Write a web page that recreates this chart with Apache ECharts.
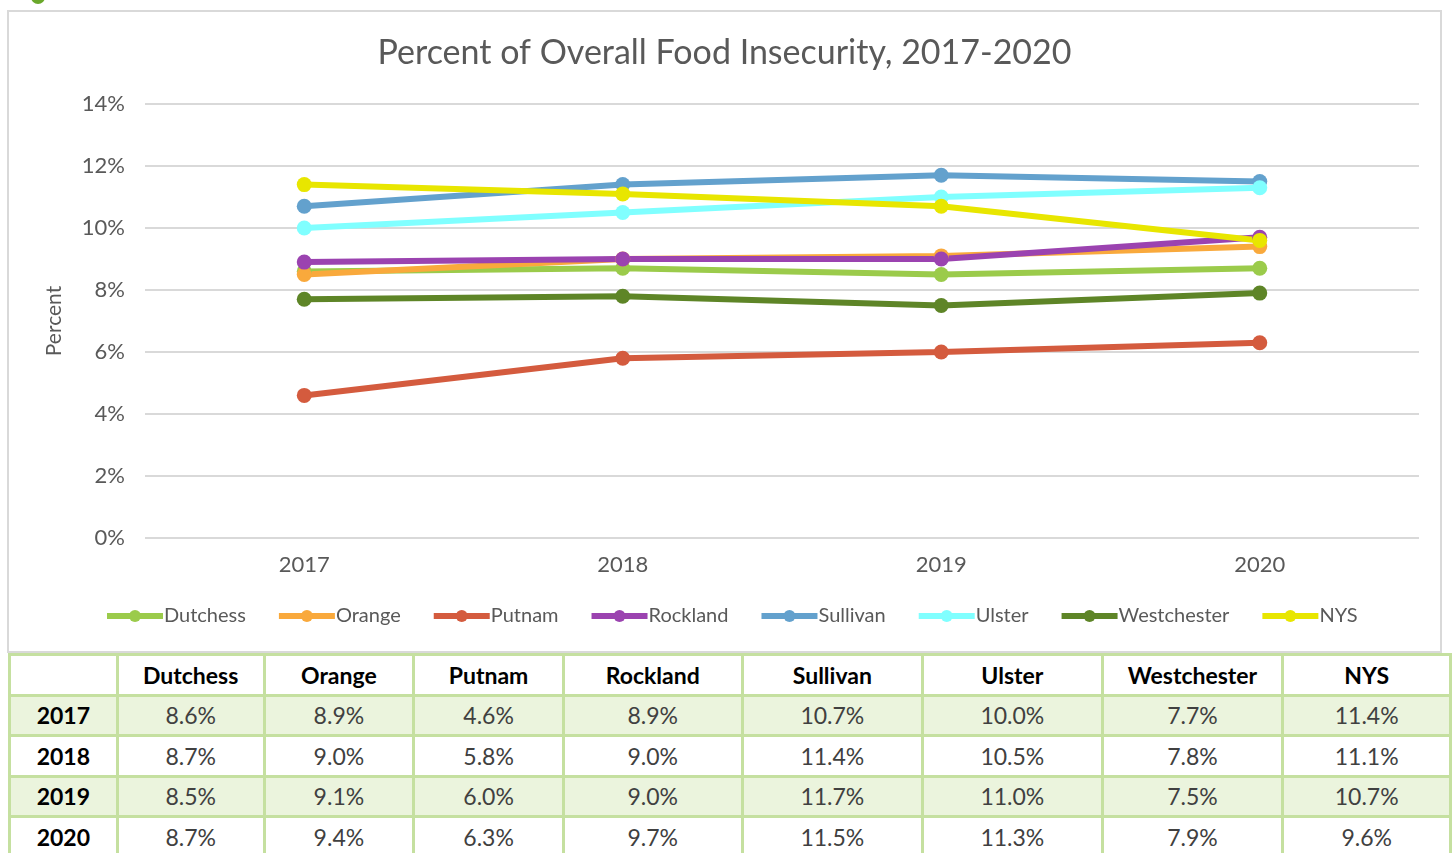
<!DOCTYPE html>
<html>
<head>
<meta charset="utf-8">
<script src="https://cdn.jsdelivr.net/npm/echarts@6/dist/echarts.min.js"></script>
<style>
  body { margin: 0; background: #fff; font-family: Lato, 'Open Sans', sans-serif; overflow: hidden; }
  #dot { position: absolute; left: 31px; top: -10px; width: 14px; height: 14px; border-radius: 50%; background: #6aa82b; }
  #main { position: absolute; left: 7px; top: 10px; width: 1431px; height: 639px; border: 2px solid #d9d9d9; }
  #tbl { position: absolute; left: 8px; top: 653px; border-collapse: collapse; }
  #tbl td, #tbl th { border: 3px solid #c5e0a0; height: 37.5px; padding: 0; text-align: center; font-size: 23px; color: #404040; }
  #tbl th { color: #000; font-weight: bold; }
  #tbl tr.alt td, #tbl tr.alt th { background: #ebf4dd; }
</style>
</head>
<body>
<div id="dot"></div>
<div id="main"></div>
<table id="tbl"></table>
<script>
const years = ['2017', '2018', '2019', '2020']
const names = ['Dutchess', 'Orange', 'Putnam', 'Rockland', 'Sullivan', 'Ulster', 'Westchester', 'NYS']
const colors = ['#9bcb4b', '#f9a93c', '#d45b3e', '#9b43b0', '#63a1cd', '#80ffff', '#5e8527', '#e8e600']
const dutchess = [8.6, 8.7, 8.5, 8.7]
const orange = [8.5, 9.0, 9.1, 9.4]
const putnam = [4.6, 5.8, 6.0, 6.3]
const rockland = [8.9, 9.0, 9.0, 9.7]
const sullivan = [10.7, 11.4, 11.7, 11.5]
const ulster = [10.0, 10.5, 11.0, 11.3]
const westchester = [7.7, 7.8, 7.5, 7.9]
const nys = [11.4, 11.1, 10.7, 9.6]
// the table under the chart prints 8.9 for Orange 2017, the chart plots 8.5
const orangeTable = [8.9, 9.0, 9.1, 9.4]
const colWidths = [108, 147, 150, 150, 179, 181, 180, 181, 168]

const allData = [dutchess, orange, putnam, rockland, sullivan, ulster, westchester, nys]
const tableData = [dutchess, orangeTable, putnam, rockland, sullivan, ulster, westchester, nys]

var myChart = echarts.init(document.getElementById('main'))
var font = 'Lato, "Open Sans", sans-serif'
var option = {
  animation: false,
  color: colors,
  title: {
    text: 'Percent of Overall Food Insecurity, 2017-2020',
    left: 'center',
    top: 19,
    textStyle: { fontSize: 34, fontWeight: 'normal', color: '#595959', fontFamily: font }
  },
  legend: {
    data: names,
    left: 90,
    top: 589,
    itemWidth: 56,
    itemHeight: 15,
    itemGap: 30,
    lineStyle: { width: 6 },
    textStyle: { fontSize: 20, color: '#595959', fontFamily: font, padding: [0, 0, 0, -4] }
  },
  grid: { left: 136, right: 21, top: 92, bottom: 113 },
  xAxis: {
    type: 'category',
    data: years,
    boundaryGap: true,
    axisLine: { show: false },
    axisTick: { show: false },
    axisLabel: { fontSize: 22, color: '#595959', fontFamily: font, margin: 16 }
  },
  yAxis: {
    type: 'value',
    min: 0,
    max: 14,
    interval: 2,
    name: 'Percent',
    nameLocation: 'middle',
    nameGap: 80,
    nameTextStyle: { fontSize: 21, color: '#595959', fontFamily: font },
    axisLabel: { fontSize: 22, color: '#595959', fontFamily: font, margin: 20, formatter: '{value}%' },
    splitLine: { lineStyle: { color: '#d9d9d9', width: 2 } }
  },
  series: names.map(function (n, i) {
    return {
      name: n,
      type: 'line',
      data: allData[i],
      symbol: 'circle',
      symbolSize: 15,
      lineStyle: { width: 6 },
      itemStyle: { color: colors[i] }
    }
  })
}
option && myChart.setOption(option)

var tbl = document.getElementById('tbl')
var html = '<tr>'
colWidths.forEach(function (w, i) {
  html += '<th style="width:' + (w - 3) + 'px">' + (i === 0 ? '' : names[i - 1]) + '</th>'
})
html += '</tr>'
years.forEach(function (y, r) {
  html += '<tr class="' + (r % 2 === 0 ? 'alt' : '') + '"><th>' + y + '</th>'
  tableData.forEach(function (d) {
    html += '<td>' + d[r].toFixed(1) + '%</td>'
  })
  html += '</tr>'
})
tbl.innerHTML = html
</script>
</body>
</html>
